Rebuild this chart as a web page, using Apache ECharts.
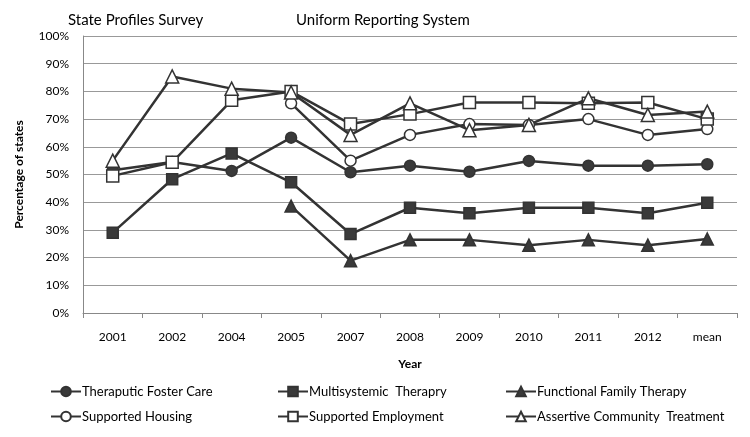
<!DOCTYPE html>
<html><head><meta charset="utf-8">
<script src="https://cdn.jsdelivr.net/npm/echarts@6/dist/echarts.min.js"></script>
<style>html,body{margin:0;padding:0;background:#fff}#c{width:750px;height:437px}</style>
</head><body><div id="c"></div>
<script>
var years = ['2001','2002','2004','2005','2007','2008','2009','2010','2011','2012','mean'];
var yTicks = [0,10,20,30,40,50,60,70,80,90,100];
var tfc = [51.5, 54.5, 51.3, 63.3, 50.8, 53.2, 51.0, 54.9, 53.2, 53.2, 53.7];
var mst = [29.0, 48.3, 57.6, 47.2, 28.5, 38.0, 36.0, 38.0, 38.0, 36.0, 39.8];
var fft = [null, null, null, 38.6, 18.9, 26.4, 26.4, 24.5, 26.4, 24.5, 26.7];
var sh  = [null, null, null, 75.7, 55.0, 64.3, 68.2, 67.9, 70.0, 64.3, 66.4];
var se  = [49.5, 54.4, 76.8, 80.0, 68.2, 71.8, 76.0, 76.0, 75.7, 76.0, 70.0];
var act = [55.0, 85.4, 81.0, 79.6, 64.3, 75.7, 66.0, 67.9, 77.5, 71.5, 72.7];
var names = ['Theraputic Foster Care','Multisystemic  Therapry','Functional Family Therapy','Supported Housing','Supported Employment','Assertive Community  Treatment'];
var periodLabels = ['State Profiles Survey','Uniform Reporting System'];

var FONT = 'Lato, "Open Sans", sans-serif';
var DARK = '#333333';
function mk(name, data, symbol, fill, size){
  return {
    name: name, type: 'line', data: data, symbol: symbol, symbolSize: size,
    showAllSymbol: true, connectNulls: false,
    lineStyle: {color: DARK, width: 2.5},
    itemStyle: {color: fill, borderColor: DARK, borderWidth: 1.5},
    emphasis: {disabled: true}, animation: false
  };
}
function lg(left, items){
  return {
    left: left, top: 380, orient: 'vertical', itemWidth: 30, itemHeight: 12, itemGap: 12,
    textStyle: {fontFamily: FONT, fontSize: 13, color: '#000', padding: [0,0,0,-4]},
    data: items
  };
}
var chart = echarts.init(document.getElementById('c'), null, {renderer:'canvas'});
chart.setOption({
  backgroundColor: '#fff',
  animation: false,
  title: [
    {text: periodLabels[0], left: 63, top: 8, textStyle:{fontFamily: FONT, fontSize: 15, fontWeight: 'normal', color: '#000'}},
    {text: periodLabels[1], left: 291, top: 8, textStyle:{fontFamily: FONT, fontSize: 15, fontWeight: 'normal', color: '#000'}}
  ],
  grid: {left: 83, right: 13, top: 36, bottom: 124, containLabel: false},
  xAxis: {
    type: 'category', data: years, boundaryGap: true,
    name: 'Year', nameLocation: 'middle', nameGap: 45,
    nameTextStyle: {fontFamily: FONT, fontSize: 12, fontWeight: 'bold', color: '#000'},
    axisLine: {lineStyle: {color: '#888', width: 1}},
    axisTick: {show: true, length: 5, lineStyle: {color: '#888'}},
    axisLabel: {fontFamily: FONT, fontSize: 12, color: '#000', margin: 18},
    splitLine: {show: true, showMinLine: false, showMaxLine: false,
      interval: function(i){ return i === 3; },
      lineStyle: {type: [7,4], color: '#222', width: 1.3}}
  },
  yAxis: {
    type: 'value', min: yTicks[0], max: yTicks[yTicks.length-1], interval: 10,
    name: 'Percentage of states', nameLocation: 'middle', nameGap: 58,
    nameTextStyle: {fontFamily: FONT, fontSize: 12, fontWeight: 'bold', color: '#000'},
    axisLine: {show: true, lineStyle: {color: '#888', width: 1}},
    axisTick: {show: false},
    axisLabel: {fontFamily: FONT, fontSize: 12, color: '#000', margin: 14, formatter: '{value}%'},
    splitLine: {lineStyle: {color: '#999', width: 1}}
  },
  legend: [
    lg(45, [names[0], names[3]]),
    lg(272, [names[1], names[4]]),
    lg(500, [names[2], names[5]])
  ],
  series: [
    mk(names[0], tfc, 'circle', '#3a3a3a', 11),
    mk(names[1], mst, 'rect', '#3a3a3a', 11),
    mk(names[2], fft, 'triangle', '#3a3a3a', 12),
    mk(names[3], sh, 'circle', '#ffffff', 11),
    mk(names[4], se, 'rect', '#ffffff', 12),
    mk(names[5], act, 'triangle', '#ffffff', 13)
  ]
});
</script></body></html>
